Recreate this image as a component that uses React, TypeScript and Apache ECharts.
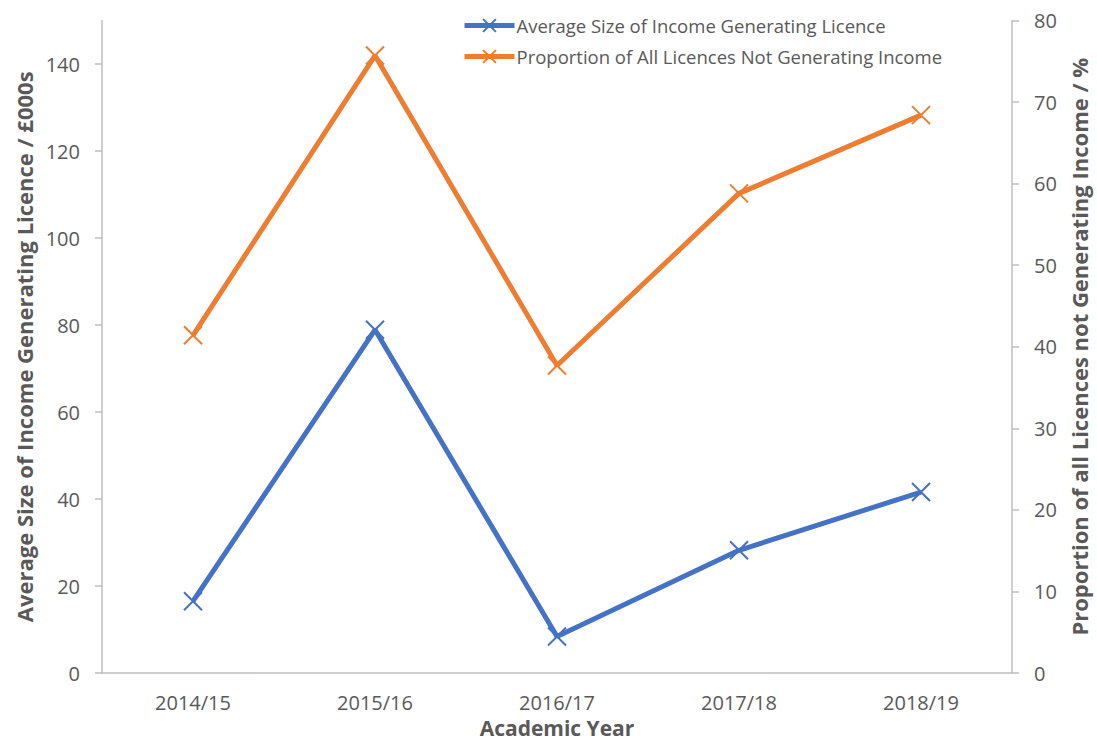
import React, { useEffect, useRef } from "react";
import * as echarts from "echarts";

const categories = ["2014/15", "2015/16", "2016/17", "2017/18", "2018/19"];
const avgSize = [16.5, 78.9, 8.4, 28.2, 41.6];
const propNotGenerating = [41.4, 75.7, 37.7, 58.8, 68.4];
const leftTickValues = [0, 20, 40, 60, 80, 100, 120, 140];
const leftRange = { min: 0, max: 150, interval: 20 };
const rightRange = { min: 0, max: 80, interval: 10 };

const FONT = "'Open Sans', 'Liberation Sans', sans-serif";
const TXT = "#595959";
const AX = "#bfbfbf";
const BLUE = "#4472c4";
const ORANGE = "#ed7d31";
const CROSS = "path://M0,0L10,10M10,0L0,10";

export default function App() {
  const ref = useRef<HTMLDivElement>(null);
  useEffect(() => {
    const chart = echarts.init(ref.current!, null, { renderer: "svg" });
    const titleStyle = { fontSize: 22, fontWeight: "bold", color: TXT, fontFamily: FONT };
    chart.setOption({
      animation: false,
      backgroundColor: "#fff",
      textStyle: { fontFamily: FONT },
      grid: { left: 102, right: 85, top: 20.5, bottom: 69, outerBoundsMode: "none", containLabel: false },
      legend: {
        orient: "vertical",
        left: 457,
        top: 11,
        itemWidth: 50,
        itemHeight: 16,
        itemGap: 12,
        lineStyle: { width: 5 },
        textStyle: { fontSize: 18.5, color: TXT, fontFamily: FONT, padding: [0, 0, 0, -3] },
        data: [
          "Average Size of Income Generating Licence",
          "Proportion of All Licences Not Generating Income",
        ],
      },
      xAxis: {
        type: "category",
        data: categories,
        boundaryGap: true,
        name: "Academic Year",
        nameLocation: "middle",
        nameGap: 44,
        nameTextStyle: { ...titleStyle, fontSize: 21, lineHeight: 22 },
        axisLine: { lineStyle: { color: AX, width: 1.5 } },
        axisTick: { show: false },
        axisLabel: { fontSize: 20, color: TXT, margin: 19, fontFamily: FONT },
      },
      yAxis: [
        {
          type: "value",
          min: leftRange.min,
          max: leftRange.max,
          interval: leftRange.interval,
          name: "Average Size of Income Generating Licence / £000s",
          nameLocation: "middle",
          nameRotate: 90,
          nameGap: 61,
          nameTextStyle: titleStyle,
          axisLine: { show: true, lineStyle: { color: AX, width: 1.5 } },
          axisTick: { show: true, length: 7, customValues: leftTickValues, lineStyle: { color: AX, width: 1.5 } },
          splitLine: { show: false },
          axisLabel: { fontSize: 20, color: TXT, margin: 22, fontFamily: FONT, customValues: leftTickValues },
        },
        {
          type: "value",
          min: rightRange.min,
          max: rightRange.max,
          interval: rightRange.interval,
          position: "right",
          name: "Proportion of all Licences not Generating Income / %",
          nameLocation: "middle",
          nameRotate: 90,
          nameGap: 56,
          nameTextStyle: titleStyle,
          axisLine: { show: true, lineStyle: { color: AX, width: 1.5 } },
          axisTick: { show: true, length: 7, lineStyle: { color: AX, width: 1.5 } },
          splitLine: { show: false },
          axisLabel: { fontSize: 20, color: TXT, margin: 22, fontFamily: FONT },
        },
      ],
      series: [
        {
          name: "Average Size of Income Generating Licence",
          type: "line",
          yAxisIndex: 0,
          data: avgSize,
          symbol: CROSS,
          symbolSize: 18,
          showAllSymbol: true,
          lineStyle: { color: BLUE, width: 5 },
          itemStyle: { color: BLUE, borderColor: BLUE, borderWidth: 2 },
        },
        {
          name: "Proportion of All Licences Not Generating Income",
          type: "line",
          yAxisIndex: 1,
          data: propNotGenerating,
          symbol: CROSS,
          symbolSize: 18,
          showAllSymbol: true,
          lineStyle: { color: ORANGE, width: 5 },
          itemStyle: { color: ORANGE, borderColor: ORANGE, borderWidth: 2 },
        },
      ],
    });
    return () => chart.dispose();
  }, []);
  return <div ref={ref} style={{ width: 1097, height: 742, position: "absolute", left: 0, top: 0 }} />;
}
